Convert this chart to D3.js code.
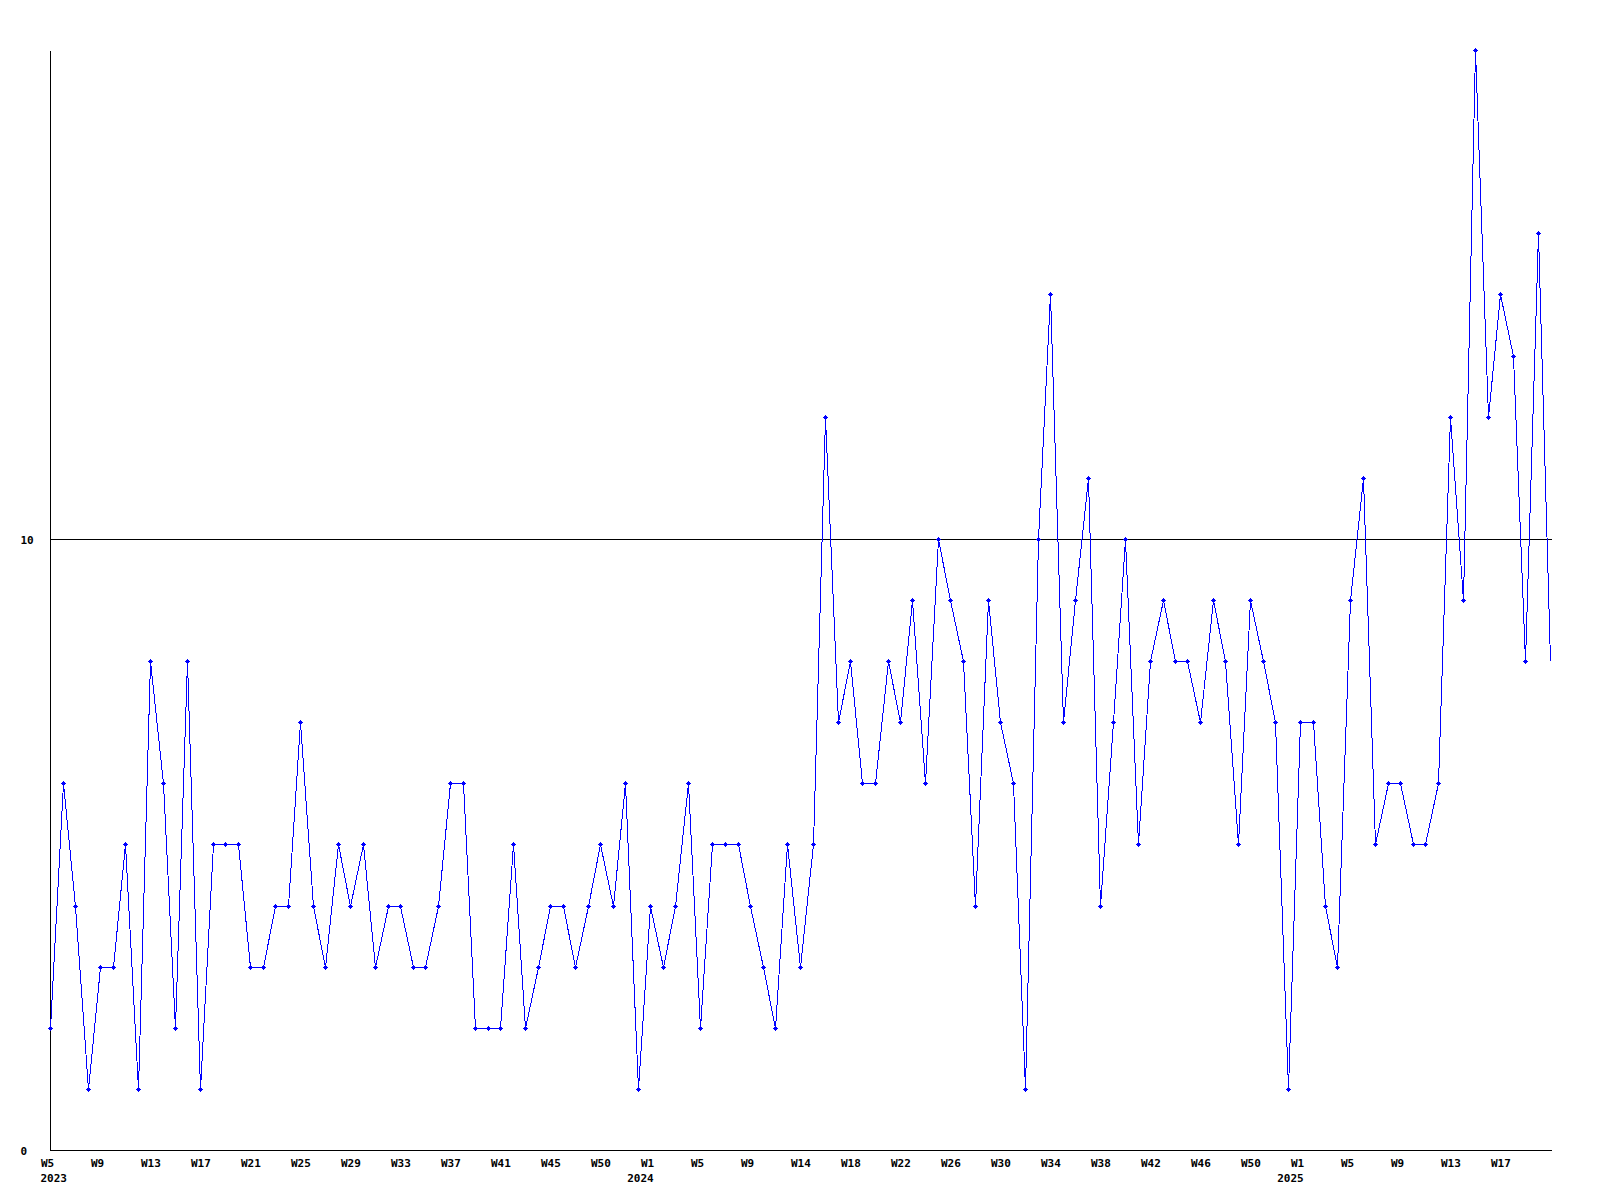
<!DOCTYPE html>
<html>
<head>
<meta charset="utf-8">
<script src="https://cdn.jsdelivr.net/npm/d3@7"></script>
<style>
  html, body { margin: 0; padding: 0; background: #ffffff; }
  svg { display: block; }
  text { font-family: "DejaVu Sans Mono", "Liberation Mono", monospace; font-size: 11px; font-weight: bold; fill: #000; }
</style>
</head>
<body>
<svg id="chart" width="1600" height="1200"></svg>
<script>
// ---- data ----
// one value per week, starting 2023 W5
const values = [
  2, 6, 4, 1, 3, 3, 5, 1, 8, 6,
  2, 8, 1, 5, 5, 5, 3, 3, 4, 4,
  7, 4, 3, 5, 4, 5, 3, 4, 4, 3,
  3, 4, 6, 6, 2, 2, 2, 5, 2, 3,
  4, 4, 3, 4, 5, 4, 6, 1, 4, 3,
  4, 6, 2, 5, 5, 5, 4, 3, 2, 5,
  3, 5, 12, 7, 8, 6, 6, 8, 7, 9,
  6, 10, 9, 8, 4, 9, 7, 6, 1, 10,
  14, 7, 9, 11, 4, 7, 10, 5, 8, 9,
  8, 8, 7, 9, 8, 5, 9, 8, 7, 1,
  7, 7, 4, 3, 9, 11, 5, 6, 6, 5,
  5, 6, 12, 9, 18, 12, 14, 13, 8, 15,
  8
];
// x-axis labels, one every 4 weeks
const tickLabels = [
  "W5", "W9", "W13", "W17", "W21", "W25", "W29", "W33", "W37", "W41",
  "W45", "W50", "W1", "W5", "W9", "W14", "W18", "W22", "W26", "W30",
  "W34", "W38", "W42", "W46", "W50", "W1", "W5", "W9", "W13", "W17"
];
const tickEvery = 4;
const yearLabels = ["2023", "2024", "2025"];
const yearTickPos = [0, 12, 25];   // which tick label each year sits under
const yTicks = [0, 10];
const yMax = 18;
const refLine = 10;

// ---- layout ----
const mLeft = 50, mRight = 1550, mTop = 50, mBottom = 1150;
const svg = d3.select("#chart");

const x = d3.scaleLinear().domain([0, values.length - 1]).rangeRound([mLeft, mRight]);
const y = d3.scaleLinear().domain([0, yMax]).rangeRound([mBottom, mTop]);

const g = svg.append("g").attr("transform", "translate(0.5,0.5)");

// reference line at 10
g.append("line")
  .attr("x1", mLeft).attr("x2", mRight + 1)
  .attr("y1", y(refLine)).attr("y2", y(refLine))
  .attr("stroke", "#000").attr("stroke-width", 1)
  .attr("shape-rendering", "crispEdges");

// y axis
const yAxis = d3.axisLeft(y).tickValues(yTicks).tickSize(0).tickFormat(d3.format("d"));
const yg = g.append("g").attr("transform", `translate(${mLeft},0)`).call(yAxis);
yg.select(".domain").remove();
yg.attr("font-family", null).attr("font-size", null);
yg.selectAll("text")
  .attr("text-anchor", "start")
  .attr("x", -30)
  .attr("dy", "0.32em");

g.append("line")
  .attr("x1", mLeft).attr("x2", mLeft)
  .attr("y1", mTop).attr("y2", mBottom)
  .attr("stroke", "#000").attr("shape-rendering", "crispEdges");

// x axis
const tickVals = tickLabels.map((d, i) => i * tickEvery);
const xAxis = d3.axisBottom(x).tickValues(tickVals).tickSize(0)
  .tickFormat((d, i) => tickLabels[i]);
const xg = g.append("g").attr("transform", `translate(0,${mBottom})`).call(xAxis);
xg.select(".domain").remove();
xg.attr("font-family", null).attr("font-size", null);
xg.selectAll("text")
  .attr("text-anchor", "start")
  .attr("x", -10)
  .attr("y", 16)
  .attr("dy", 0);

g.append("line")
  .attr("x1", mLeft).attr("x2", mRight + 1)
  .attr("y1", mBottom).attr("y2", mBottom)
  .attr("stroke", "#000").attr("shape-rendering", "crispEdges");

// year labels
g.selectAll("text.year").data(yearLabels).enter().append("text")
  .attr("class", "year")
  .attr("x", (d, i) => x(tickVals[yearTickPos[i]]) - 10)
  .attr("y", mBottom + 31)
  .attr("text-anchor", (d, i) => i === 0 ? "start" : "middle")
  .text(d => d);

// data line
const line = d3.line().x((d, i) => x(i)).y(d => y(d));
g.append("path")
  .datum(values)
  .attr("d", line)
  .attr("fill", "none")
  .attr("stroke", "#0000ff")
  .attr("stroke-width", 1)
  .attr("shape-rendering", "crispEdges");

// markers (no marker on the last, current point)
const markerData = values.slice(0, values.length - 1);
const mk = svg.append("g").attr("fill", "#0000ff").attr("shape-rendering", "crispEdges");
markerData.forEach((v, i) => {
  const cx = x(i), cy = y(v);
  mk.append("rect").attr("x", cx - 2).attr("y", cy).attr("width", 5).attr("height", 1);
  mk.append("rect").attr("x", cx).attr("y", cy - 2).attr("width", 1).attr("height", 5);
  mk.append("rect").attr("x", cx - 1).attr("y", cy - 1).attr("width", 3).attr("height", 3);
});
</script>
</body>
</html>
